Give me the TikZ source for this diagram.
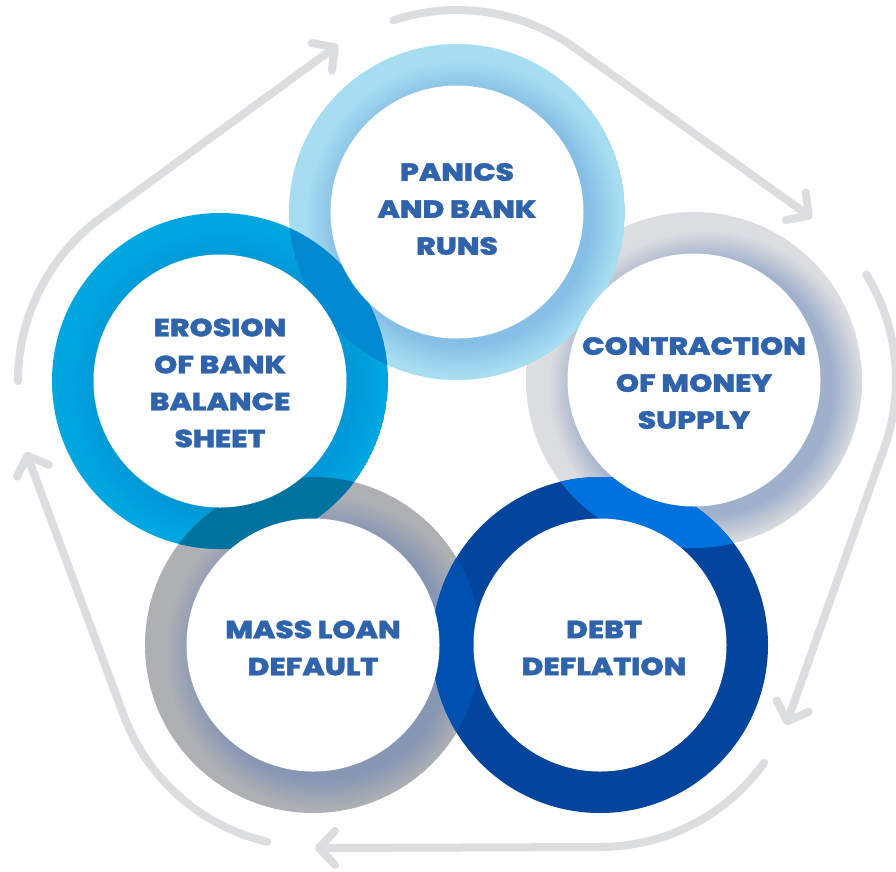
\documentclass[tikz,border=0pt]{standalone}
\usepackage{fontspec}
\setmainfont{Poppins}[BoldFont={Poppins ExtraBold},BoldFeatures={FakeStretch=1.2,FakeBold=1.5}]
\usetikzlibrary{arrows.meta,calc}
\definecolor{arrowgray}{HTML}{DCDDDF}
\definecolor{txtblue}{HTML}{2F63AC}
\definecolor{pbase}{HTML}{A7DDF1}
\definecolor{pdark}{HTML}{86BFE5}
\definecolor{cbase}{HTML}{DCDDE0}
\definecolor{cdark}{HTML}{9FB0CB}
\definecolor{mbase}{HTML}{AEB0B4}
\definecolor{mdark}{HTML}{8797B3}
\definecolor{ebase}{HTML}{00A6DF}
\definecolor{edark}{HTML}{0098D8}
\definecolor{dblue}{HTML}{03449C}
\definecolor{ovPE}{HTML}{0089D0}
\definecolor{ovEM}{HTML}{00729F}
\definecolor{ovMD}{HTML}{0050B0}
\definecolor{ovDC}{HTML}{0072DD}
% band with an inner shadow built from stepped circles
\newcommand\ringband[4]{%
  \begin{scope}
    \clip (#1) circle[radius=168];
    \fill[#2] (#1) circle[radius=168];
    \foreach \k in {0,...,14}{%
      \pgfmathsetmacro\rr{156-2*\k}%
      \pgfmathsetmacro\pp{(\k+1)*100/15}%
      \fill[#3!\pp!#2] ($(#1)+(#4)$) circle[radius=\rr];
    }
  \end{scope}}
\newcommand\ringover[3]{%
  \begin{scope}
    \clip (#1) circle[radius=168];
    \fill[#3] (#2) circle[radius=168];
  \end{scope}}
\begin{document}
\begin{tikzpicture}[x=1pt,y=-1pt,
  cyclearrow/.style={draw=arrowgray, line width=8pt, line cap=round,
    -{Straight Barb[length=16pt,width=34pt,line cap=round,line join=round]}},
  lbl/.style={text=txtblue, font=\bfseries\fontsize{24.7}{37}\selectfont,
    align=center, inner sep=0pt},
  hole/.style={fill=white}]
\useasboundingbox (0,0) rectangle (896,871);
\fill[white] (0,0) rectangle (896,871);
% ring centres
\coordinate (cP) at (457,212);
\coordinate (cC) at (694,380);
\coordinate (cD) at (600,645);
\coordinate (cM) at (313,645);
\coordinate (cE) at (220,381);
% bands
\ringband{cC}{cbase}{cdark}{12,8}
\ringband{cP}{pbase}{pdark}{6,6}
\ringband{cM}{mbase}{mdark}{10,8}
\fill[dblue] (cD) circle[radius=168];
\ringband{cE}{ebase}{edark}{5,5}
% overlaps
\ringover{cP}{cE}{ovPE}
\ringover{cE}{cM}{ovEM}
\ringover{cM}{cD}{ovMD}
\ringover{cD}{cC}{ovDC}
% white interiors
\foreach \c in {cP,cC,cD,cM,cE} \fill[hole] (\c) circle[radius=126.5];
% labels
\node[lbl] (panics) at ($(cP)+(0,-3)$) {PANICS\\AND BANK\\RUNS};
\node[lbl] (contr) at ($(cC)+(0,3)$) {CONTRACTION\\OF MONEY\\SUPPLY};
\node[lbl] (debt) at ($(cD)+(4,3)$) {DEBT\\DEFLATION};
\node[lbl] (mass) at ($(cM)+(0,3)$) {MASS LOAN\\DEFAULT};
\node[lbl] (eros) at ($(cE)+(0,2)$) {EROSION\\OF BANK\\BALANCE\\SHEET};
% cycle arrows
\coordinate (s1) at ($(cE)+(180:202)$);
\coordinate (t1) at (338,45);
\coordinate (s2) at ($(cP)+(251.7:202)$);
\coordinate (t2) at (812,218);
\coordinate (s3) at ($(cC)+(-31.5:202)$);
\coordinate (t3) at (786,725);
\coordinate (s4) at ($(cD)+(35.7:202)$);
\coordinate (t4) at (315,848);
\coordinate (s5) at ($(cM)+(103.1:202)$);
\coordinate (t5) at (26,452);
\draw[cyclearrow] (s1) arc[start angle=180, end angle=233.6, radius=202] -- (t1);
\draw[cyclearrow] (s2) arc[start angle=251.7, end angle=305.5, radius=202] -- (t2);
\draw[cyclearrow] (s3) arc[start angle=-31.5, end angle=19.3, radius=202] -- (t3);
\draw[cyclearrow] (s4) arc[start angle=35.7, end angle=89.6, radius=202] -- (t4);
\draw[cyclearrow] (s5) arc[start angle=103.1, end angle=159.4, radius=202] -- (t5);
\end{tikzpicture}
\end{document}
